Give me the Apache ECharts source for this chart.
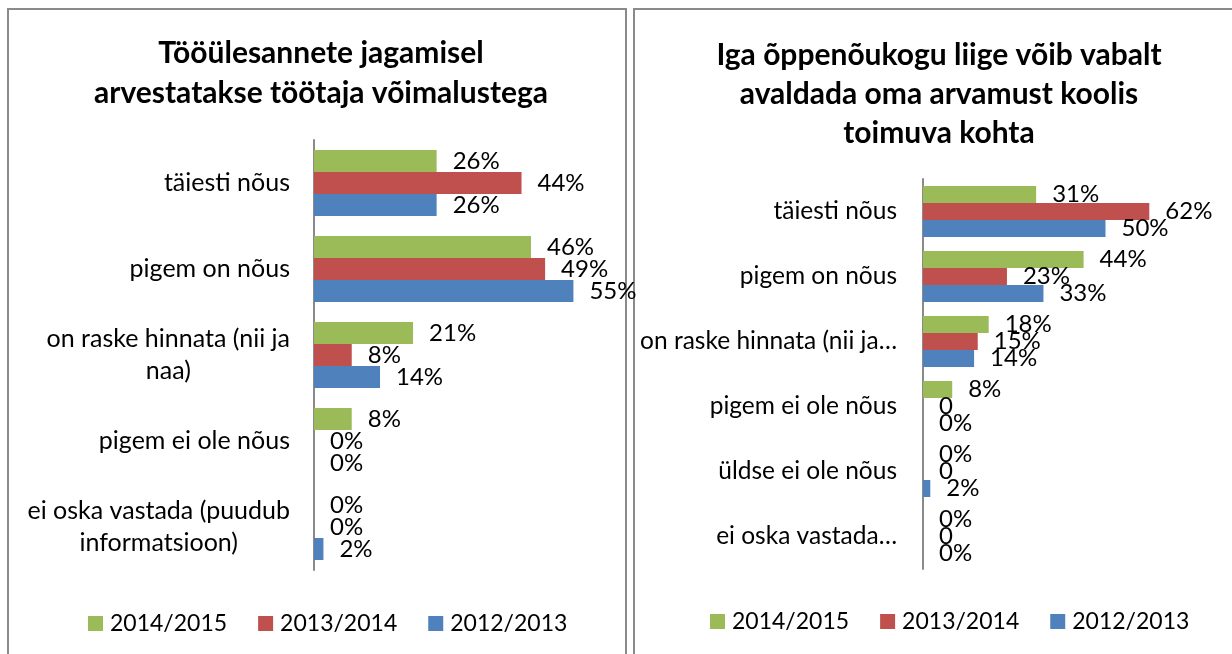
<!DOCTYPE html>
<html>
<head>
<meta charset="utf-8">
<script src="https://cdn.jsdelivr.net/npm/echarts@6/dist/echarts.min.js"></script>
<style>
html,body{margin:0;padding:0;background:#fff;}
#chart{width:1232px;height:654px;}
</style>
</head>
<body>
<div id="chart"></div>
<script>
// ---- data ----
const seriesNames = ['2014/2015', '2013/2014', '2012/2013'];
const seriesColors = ['#9BBB59', '#C0504D', '#4F81BD'];

const leftTitle = 'Tööülesannete jagamisel\narvestatakse töötaja võimalustega';
const leftCategories = ['täiesti nõus', 'pigem on nõus', 'on raske hinnata (nii ja\nnaa)', 'pigem ei ole nõus', 'ei oska vastada (puudub\ninformatsioon)'];
const left2014 = [26, 46, 21, 8, 0];
const left2013 = [44, 49, 8, 0, 0];
const left2012 = [26, 55, 14, 0, 2];

const rightTitle = 'Iga õppenõukogu liige võib vabalt\navaldada oma arvamust koolis\ntoimuva kohta';
const rightCategories = ['täiesti nõus', 'pigem on nõus', 'on raske hinnata (nii ja…', 'pigem ei ole nõus', 'üldse ei ole nõus', 'ei oska vastada…'];
const right2014 = [31, 44, 18, 8, 0, 0];
const right2013 = [62, 23, 15, 0, 0, 0];
const right2012 = [50, 33, 14, 0, 2, 0];
const right2013Labels = ['62%', '23%', '15%', '0', '0', '0'];

// ---- chart ----
const FONT = 'Lato';
const chart = echarts.init(document.getElementById('chart'), null, {renderer: 'canvas'});

function pct(p) { return p.value + '%'; }

function makeSeries(name, color, data, gridIdx, barW, fmt) {
  return {
    name: name, type: 'bar', xAxisIndex: gridIdx, yAxisIndex: gridIdx,
    data: data, barWidth: barW, barGap: '0%',
    itemStyle: {color: color},
    label: {show: true, position: 'right', distance: 16, formatter: fmt || pct,
            fontFamily: FONT, fontSize: 24, color: '#000'},
    emphasis: {disabled: true}, animation: false
  };
}

const legendCommon = {
  icon: 'rect', itemWidth: 15, itemHeight: 15, itemGap: 31,
  textStyle: {fontFamily: FONT, fontSize: 23, color: '#000', padding: [0, 0, 0, 2]},
  data: seriesNames, selectedMode: false
};

const yCommon = {
  type: 'category', inverse: true,
  axisTick: {show: false},
  axisLine: {show: true, lineStyle: {color: '#8a8a8a', width: 2}},
  splitLine: {show: false}
};

const option = {
  backgroundColor: '#fff',
  animation: false,
  color: seriesColors,
  graphic: [
    {type: 'rect', shape: {x: 8, y: 9, width: 618, height: 700}, style: {fill: 'none', stroke: '#8a8a8a', lineWidth: 2}, silent: true},
    {type: 'rect', shape: {x: 634, y: 9, width: 700, height: 700}, style: {fill: 'none', stroke: '#8a8a8a', lineWidth: 2}, silent: true}
  ],
  title: [
    {text: leftTitle, left: 316, top: 28, textAlign: 'center',
     textStyle: {fontFamily: FONT, fontSize: 30, fontWeight: 'bold', color: '#000', lineHeight: 40}},
    {text: rightTitle, left: 934, top: 31, textAlign: 'center',
     textStyle: {fontFamily: FONT, fontSize: 30, fontWeight: 'bold', color: '#000', lineHeight: 39}}
  ],
  legend: [
    Object.assign({left: 83, top: 607}, legendCommon),
    Object.assign({left: 705, top: 605}, legendCommon)
  ],
  grid: [
    {left: 314, top: 140, width: 283, height: 430},
    {left: 923, top: 179, width: 292, height: 390}
  ],
  xAxis: [
    {type: 'value', gridIndex: 0, min: 0, max: 60, show: false},
    {type: 'value', gridIndex: 1, min: 0, max: 80, show: false}
  ],
  yAxis: [
    Object.assign({}, yCommon, {gridIndex: 0, data: leftCategories,
      axisLabel: {margin: 24, fontFamily: FONT, fontSize: 25, color: '#000', lineHeight: 32,
        formatter: function (v) { return v.split('\n').map(function (l) { return '{c|' + l + '}'; }).join('\n'); },
        rich: {c: {align: 'center', fontFamily: FONT, fontSize: 25, color: '#000', lineHeight: 32}}}}),
    Object.assign({}, yCommon, {gridIndex: 1, data: rightCategories,
      axisLabel: {margin: 26, fontFamily: FONT, fontSize: 24.5, color: '#000'}})
  ],
  series: [
    makeSeries(seriesNames[0], seriesColors[0], left2014, 0, 22),
    makeSeries(seriesNames[1], seriesColors[1], left2013, 0, 22),
    makeSeries(seriesNames[2], seriesColors[2], left2012, 0, 22),
    makeSeries(seriesNames[0], seriesColors[0], right2014, 1, 17),
    makeSeries(seriesNames[1], seriesColors[1], right2013, 1, 17, function (p) { return right2013Labels[p.dataIndex]; }),
    makeSeries(seriesNames[2], seriesColors[2], right2012, 1, 17)
  ]
};
chart.setOption(option);
</script>
</body>
</html>
